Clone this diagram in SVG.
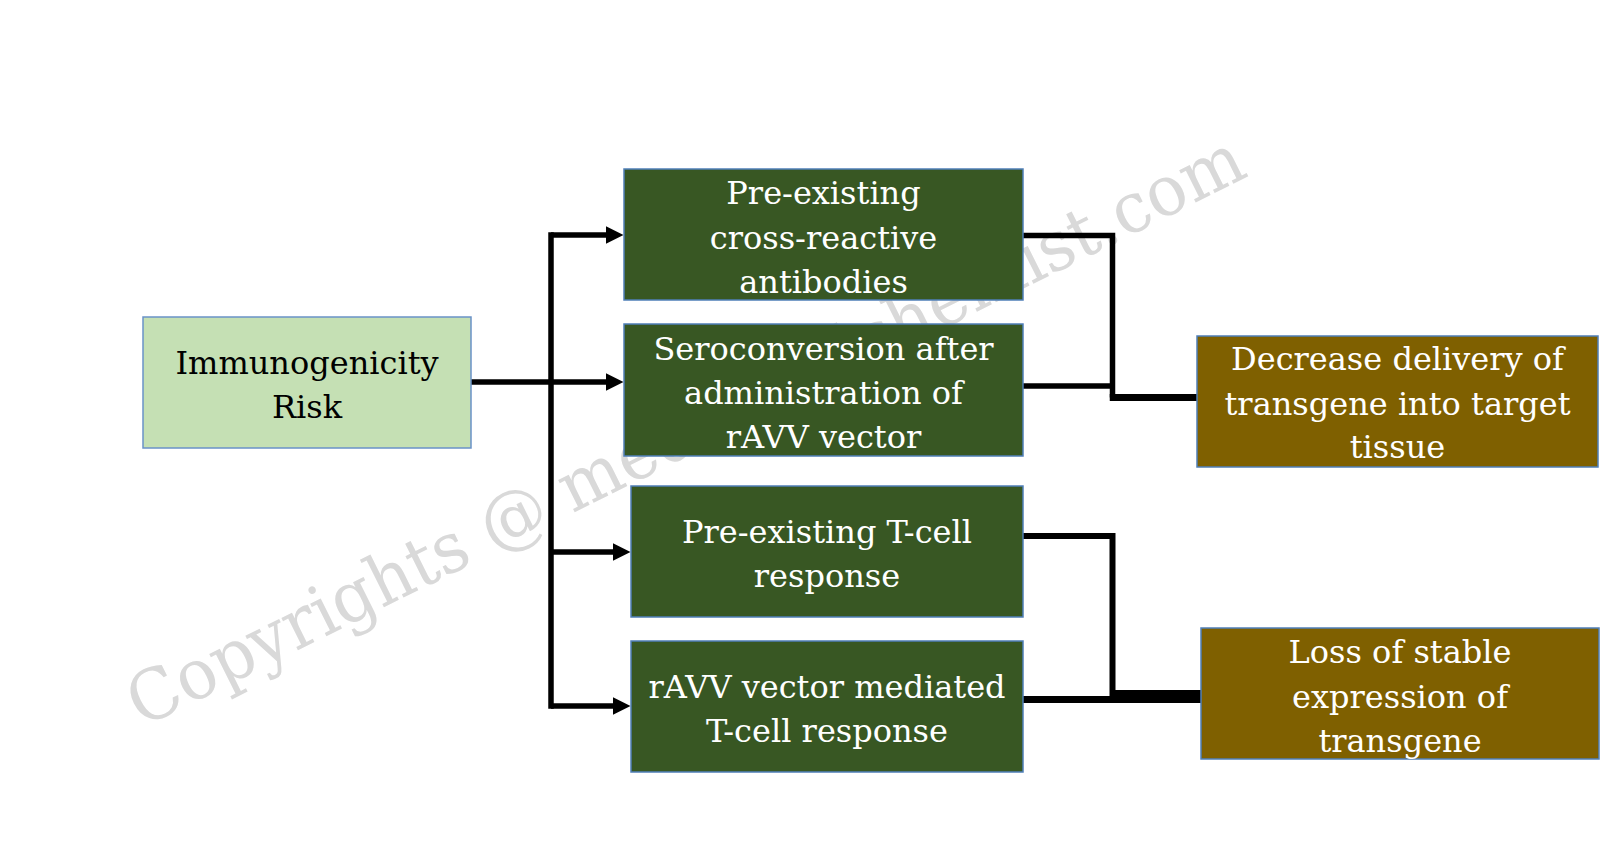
<svg xmlns="http://www.w3.org/2000/svg" width="1600" height="861" viewBox="0 0 1600 861">
  <style>
    .lbl { font-family: "DejaVu Serif", "Liberation Serif", serif; font-size: 32px; text-anchor: middle; }
    .w { fill: #ffffff; }
    .k { fill: #000000; }
    .green { fill: #385723; stroke: #4f7fb8; stroke-width: 1.5; }
    .brown { fill: #7f6000; stroke: #4f7fb8; stroke-width: 1.5; }
    .light { fill: #c5e0b4; stroke: #6a92c8; stroke-width: 1.5; }
    .ln { fill: none; stroke: #000000; stroke-width: 5.5; }
    .wm { font-family: "DejaVu Serif", "Liberation Serif", serif; font-size: 70px; fill: #d9d9d9; }
  </style>
  <defs>
    <marker id="arr" markerUnits="userSpaceOnUse" markerWidth="18" markerHeight="18" refX="1" refY="8.75" orient="auto">
      <path d="M0,0 L17.5,8.75 L0,17.5 Z" fill="#000000"/>
    </marker>
  </defs>
  <rect x="0" y="0" width="1600" height="861" fill="#ffffff"/>

  <g id="watermark">
    <text class="wm" transform="translate(142,728) rotate(-26.5)" x="0" y="0" textLength="1238" lengthAdjust="spacingAndGlyphs">Copyrights @ medicinalchemist.com</text>
  </g>

  <g id="connectors">
    <path class="ln" d="M471,382 H607" marker-end="url(#arr)"/>
    <path class="ln" d="M551,235 V706" stroke-linecap="square"/>
    <path class="ln" d="M551,235 H607" marker-end="url(#arr)"/>
    <path class="ln" d="M551,552 H614" marker-end="url(#arr)"/>
    <path class="ln" d="M551,706 H614" marker-end="url(#arr)"/>

    <path class="ln" d="M1023,235.5 H1112.5 V397.5"/>
    <path class="ln" style="stroke-width:7" d="M1109.75,397.5 H1197"/>
    <path class="ln" d="M1023,386 H1112.5"/>
    <path class="ln" style="stroke-width:6" d="M1023,536 H1112.5 V693 H1201"/>
    <path class="ln" style="stroke-width:7" d="M1023,699.5 H1201"/>
  </g>

  <g id="immunogenicity-risk">
    <rect class="light" x="143" y="317" width="328" height="131"/>
    <text class="lbl k" x="307" y="374">Immunogenicity</text>
    <text class="lbl k" x="307" y="418">Risk</text>
  </g>

  <g id="pre-existing-antibodies">
    <rect class="green" x="624" y="169" width="399" height="131"/>
    <text class="lbl w" x="823.5" y="204">Pre-existing</text>
    <text class="lbl w" x="823.5" y="249">cross-reactive</text>
    <text class="lbl w" x="823.5" y="293">antibodies</text>
  </g>

  <g id="seroconversion">
    <rect class="green" x="624" y="324" width="399" height="132"/>
    <text class="lbl w" x="823.5" y="360">Seroconversion after</text>
    <text class="lbl w" x="823.5" y="404">administration of</text>
    <text class="lbl w" x="823.5" y="448">rAVV vector</text>
  </g>

  <g id="pre-existing-tcell">
    <rect class="green" x="631" y="486" width="392" height="131"/>
    <text class="lbl w" x="827" y="543">Pre-existing T-cell</text>
    <text class="lbl w" x="827" y="587">response</text>
  </g>

  <g id="vector-tcell">
    <rect class="green" x="631" y="641" width="392" height="131"/>
    <text class="lbl w" x="827" y="698">rAVV vector mediated</text>
    <text class="lbl w" x="827" y="742">T-cell response</text>
  </g>

  <g id="decrease-delivery">
    <rect class="brown" x="1197" y="336" width="401" height="131"/>
    <text class="lbl w" x="1397.5" y="370">Decrease delivery of</text>
    <text class="lbl w" x="1397.5" y="415">transgene into target</text>
    <text class="lbl w" x="1397.5" y="458">tissue</text>
  </g>

  <g id="loss-of-expression">
    <rect class="brown" x="1201" y="628" width="398" height="131"/>
    <text class="lbl w" x="1400" y="663">Loss of stable</text>
    <text class="lbl w" x="1400" y="708">expression of</text>
    <text class="lbl w" x="1400" y="752">transgene</text>
  </g>
</svg>
